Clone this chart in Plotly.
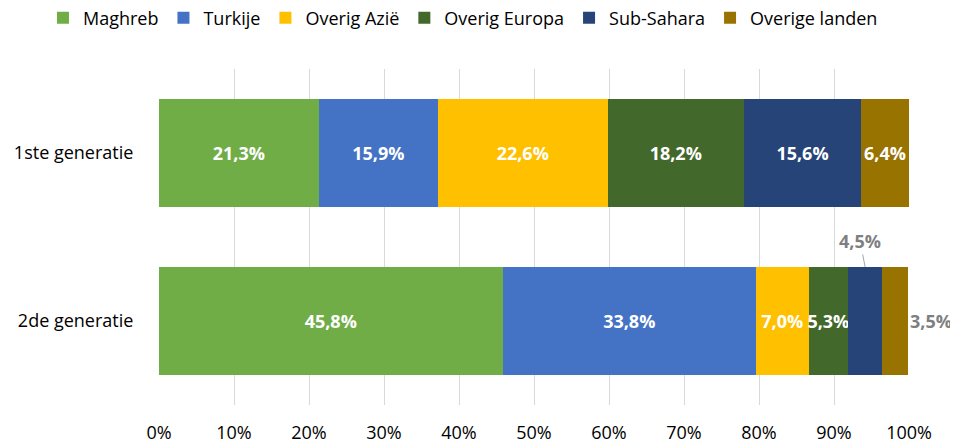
import plotly.graph_objects as go

categories = ["1ste generatie", "2de generatie"]
series_names = ["Maghreb", "Turkije", "Overig Azië", "Overig Europa", "Sub-Sahara", "Overige landen"]
maghreb = [21.3, 45.8]
turkije = [15.9, 33.8]
overig_azie = [22.6, 7.0]
overig_europa = [18.2, 5.3]
sub_sahara = [15.6, 4.5]
overige_landen = [6.4, 3.5]
tick_vals = [0, 10, 20, 30, 40, 50, 60, 70, 80, 90, 100]
tick_text = ["0%", "10%", "20%", "30%", "40%", "50%", "60%", "70%", "80%", "90%", "100%"]

series_values = [maghreb, turkije, overig_azie, overig_europa, sub_sahara, overige_landen]
colors = ["#70AD47", "#4472C4", "#FFC000", "#43682B", "#264478", "#997300"]

FONT = "Open Sans"
FS = 18

def fmt(v):
    return f"{v:.1f}".replace(".", ",") + "%"

fig = go.Figure()
for si, (name, vals, col) in enumerate(zip(series_names, series_values, colors)):
    texts = []
    for ci, v in enumerate(vals):
        # small segments in 2nd generation get external labels
        if ci == 1 and si >= 4:
            texts.append("")
        else:
            texts.append(fmt(v))
    fig.add_trace(go.Bar(
        y=categories, x=vals, name=name, orientation="h",
        marker=dict(color=col, line=dict(width=0)),
        text=texts, textposition="inside", insidetextanchor="middle",
        textangle=0, constraintext="none", cliponaxis=False,
        textfont=dict(family=FONT, size=FS, color="white", weight="bold"),
        hoverinfo="skip",
    ))

# external labels for 2de generatie small segments
cum = 0.0
starts = []
for vals in series_values:
    starts.append(cum)
    cum += vals[1]
ss_mid = starts[4] + sub_sahara[1] / 2
ol_end = starts[5] + overige_landen[1]

fig.add_annotation(x=ss_mid, y=1 - 0.3215, xref="x", yref="y",
                   text=fmt(sub_sahara[1]), showarrow=True, arrowhead=0,
                   arrowwidth=1, arrowcolor="#A6A6A6", ax=-5, ay=-26,
                   standoff=0,
                   font=dict(family=FONT, size=FS, color="#7F7F7F", weight="bold"))
fig.add_annotation(x=ol_end, y=1, xref="x", yref="y",
                   text=fmt(overige_landen[1]), showarrow=False, xanchor="left",
                   xshift=0,
                   font=dict(family=FONT, size=FS, color="#7F7F7F", weight="bold"))

fig.update_layout(
    barmode="stack",
    bargap=0.357,
    width=958, height=442,
    margin=dict(l=151, r=57, t=61, b=45, autoexpand=False),
    paper_bgcolor="white", plot_bgcolor="white",
    font=dict(family=FONT, size=FS, color="#000000"),
    legend=dict(orientation="h", xref="paper", yref="paper",
                x=-0.1547, xanchor="left", y=1.152, yanchor="middle",
                font=dict(family=FONT, size=FS, color="#000000"),
                traceorder="normal", itemwidth=30),
    xaxis=dict(range=[0, 100], tickvals=tick_vals, ticktext=tick_text,
               showgrid=True, gridcolor="#D9D9D9", gridwidth=1,
               zeroline=False, showline=False, automargin=False,
               ticks="outside", ticklen=11, tickcolor="rgba(0,0,0,0)",
               tickfont=dict(family=FONT, size=FS, color="#000000")),
    yaxis=dict(autorange="reversed", showgrid=False, zeroline=False,
               showline=False, ticks="outside", ticklen=21, automargin=False,
               tickcolor="rgba(0,0,0,0)",
               tickfont=dict(family=FONT, size=FS, color="#000000")),
)

fig.write_html("out.html")
